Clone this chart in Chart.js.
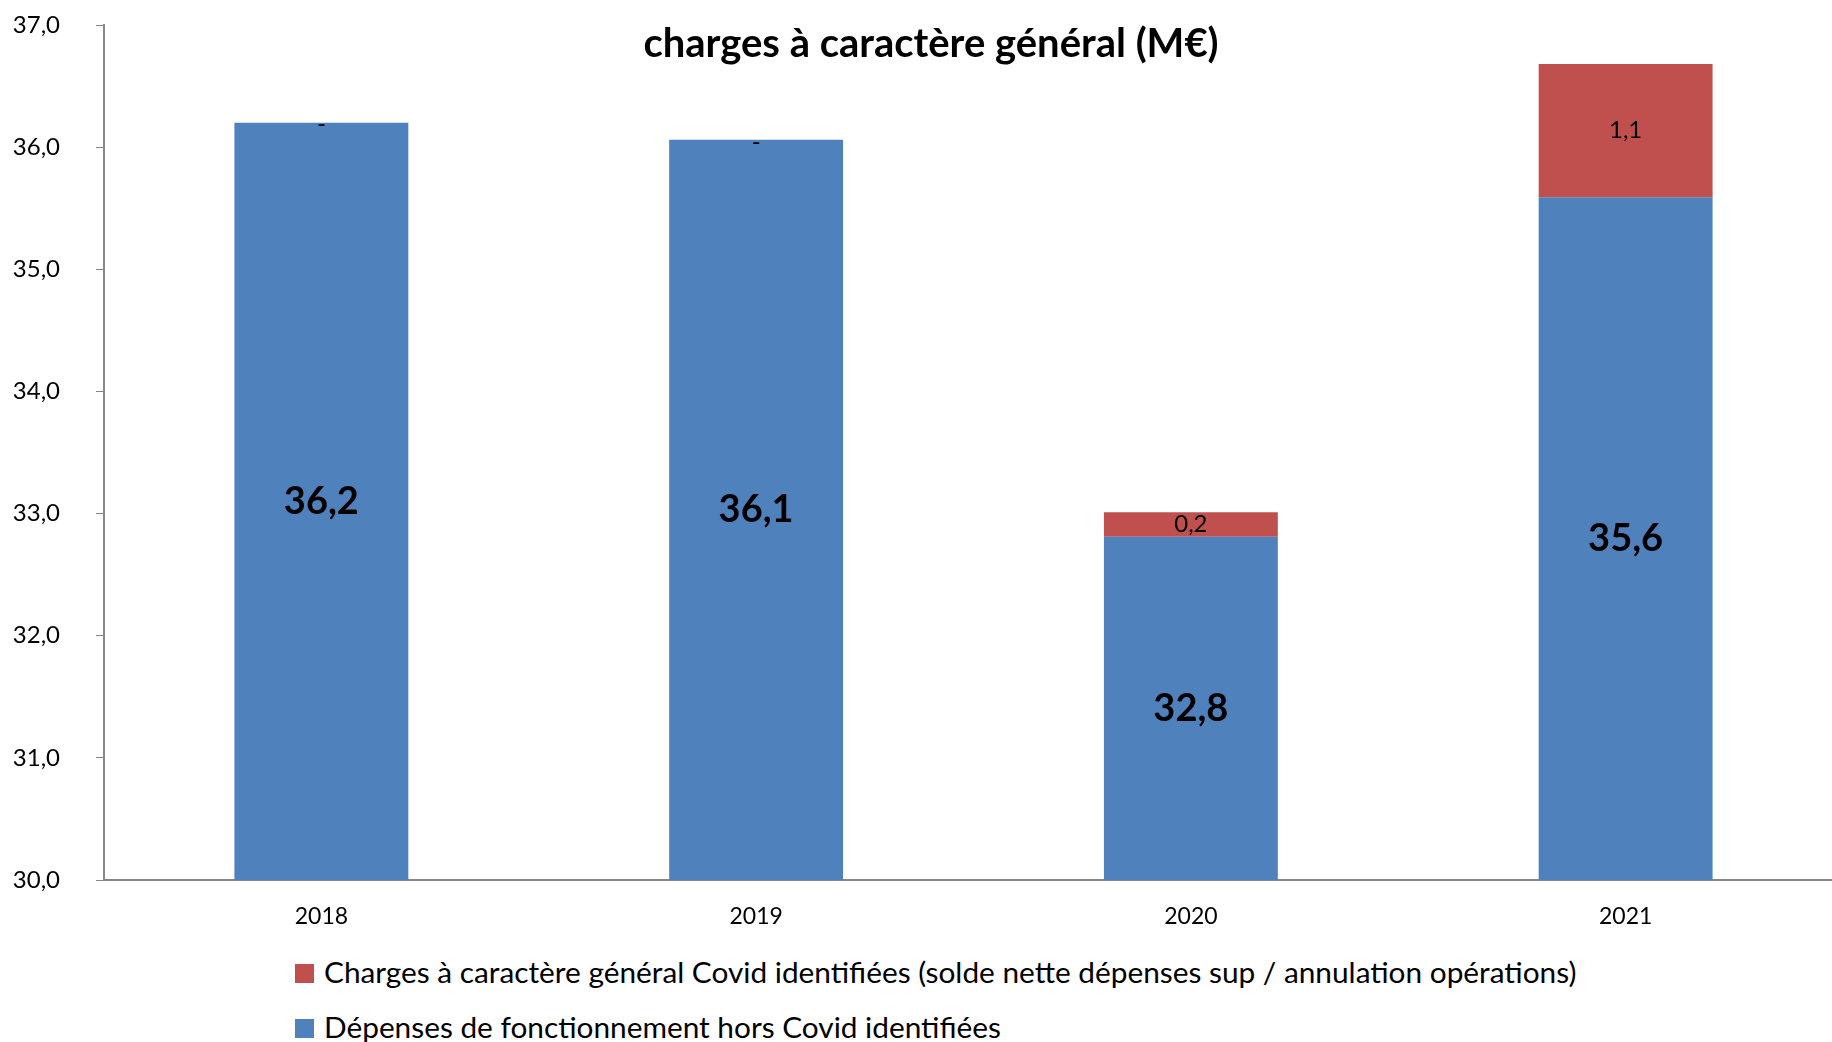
<!DOCTYPE html>
<html>
<head>
<meta charset="utf-8">
<script src="https://cdn.jsdelivr.net/npm/chart.js@4/dist/chart.umd.min.js"></script>
<style>
  html, body { margin: 0; padding: 0; background: #fff; overflow: hidden; width: 1832px; height: 1042px; }
  #wrap { position: absolute; left: 0; top: 0; width: 1843px; height: 940px; }
  #title { position: absolute; left: 0; width: 1862px; top: 18px; text-align: center;
           font: bold 40px Lato, sans-serif; line-height: 48px; color: #000; }
  #legend { position: absolute; left: 295px; top: 954px; font: 29.8px Lato, sans-serif; color: #000; }
  #legend div { height: 55px; display: flex; align-items: flex-start; white-space: nowrap; line-height: 36px; }
  #legend span.box { display: inline-block; width: 19px; height: 19px; margin-right: 10px; margin-top: 10px; }
</style>
</head>
<body>
<div id="wrap"><canvas id="chart"></canvas></div>
<div id="title">charges à caractère général (M€)</div>
<div id="legend"></div>
<script>
const years = ["2018", "2019", "2020", "2021"];
const horsCovid = [36.2, 36.06, 32.81, 35.59];
const covid = [0, 0, 0.2, 1.09];
const seriesNames = [
  "Dépenses de fonctionnement hors Covid identifiées",
  "Charges à caractère général Covid identifiées (solde nette dépenses sup / annulation opérations)"
];
const yMin = 30, yMax = 37, yStep = 1;

const fmt = v => v.toFixed(1).replace(".", ",");
const axisGrey = "#868686";

// value labels in the middle of each stacked segment
const barLabels = {
  id: "barLabels",
  afterDatasetsDraw(chart) {
    const ctx = chart.ctx;
    const xs = chart.scales.x, ys = chart.scales.y;
    ctx.save();
    ctx.fillStyle = "#000";
    ctx.textAlign = "center";
    ctx.textBaseline = "middle";
    years.forEach((yr, j) => {
      let x = xs.getPixelForValue(j);
      // blue segment: from axis min up to its value
      let top = ys.getPixelForValue(horsCovid[j]);
      let bottom = ys.getPixelForValue(yMin);
      ctx.font = "bold 38px Lato, sans-serif";
      ctx.fillText(fmt(horsCovid[j]), x, (top + bottom) / 2);
      // red segment stacked on top
      let v = covid[j];
      let rTop = ys.getPixelForValue(horsCovid[j] + v);
      ctx.font = "24px Lato, sans-serif";
      if (v === 0) ctx.fillText("-", x, top + 2);
      else ctx.fillText(fmt(v), x, (top + rTop) / 2);
    });
    ctx.restore();
  }
};

const chart = new Chart(document.getElementById("chart"), {
  type: "bar",
  data: {
    labels: years,
    datasets: [
      { label: seriesNames[0], data: horsCovid, backgroundColor: "#4F81BD",
        barPercentage: 0.4, categoryPercentage: 1 },
      { label: seriesNames[1], data: covid, backgroundColor: "#C0504D",
        barPercentage: 0.4, categoryPercentage: 1 }
    ]
  },
  options: {
    responsive: true,
    maintainAspectRatio: false,
    animation: false,
    layout: { padding: { top: 25, left: 0, right: 0, bottom: 0 } },
    plugins: {
      legend: { display: false },
      title: { display: false },
      tooltip: { enabled: false }
    },
    scales: {
      x: {
        stacked: true,
        afterFit(scale) { scale.height = 60; },
        grid: { display: false, drawOnChartArea: false, drawTicks: true, tickLength: 8, color: axisGrey, offset: true },
        border: { color: axisGrey, width: 2 },
        ticks: { color: "#000", font: { family: "Lato", size: 23 }, padding: 15 }
      },
      y: {
        stacked: true,
        min: yMin,
        max: yMax,
        afterFit(scale) {
          scale.width = 104;
          // tick padding would otherwise push the plot top down
          scale.paddingTop = 0;
          scale.paddingBottom = 0;
        },
        grid: { drawOnChartArea: false, drawTicks: true, tickLength: 8, color: axisGrey },
        border: { color: axisGrey, width: 2 },
        ticks: { stepSize: yStep, color: "#000", font: { family: "Lato", size: 24 }, padding: 36,
                 callback: v => fmt(v) }
      }
    }
  },
  plugins: [barLabels]
});

// legend: covid series first, like the original
const legend = document.getElementById("legend");
[1, 0].forEach(i => {
  const ds = chart.data.datasets[i];
  const row = document.createElement("div");
  row.innerHTML = `<span class="box" style="background:${ds.backgroundColor}"></span>${ds.label}`;
  legend.appendChild(row);
});
</script>
</body>
</html>
